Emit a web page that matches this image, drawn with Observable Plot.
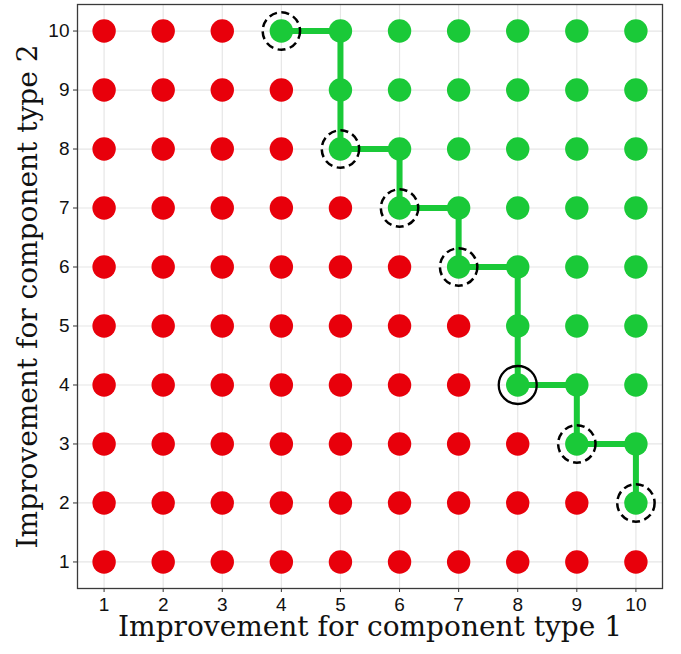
<!DOCTYPE html>
<html>
<head>
<meta charset="utf-8">
<script src="https://cdn.jsdelivr.net/npm/d3@7"></script>
<script src="https://cdn.jsdelivr.net/npm/@observablehq/plot@0.6"></script>
<style>
  html, body { margin: 0; padding: 0; background: #fff; }
</style>
</head>
<body>
<div id="chart"></div>
<script>
// Axis tick values
const xTicks = [1, 2, 3, 4, 5, 6, 7, 8, 9, 10];
const yTicks = [1, 2, 3, 4, 5, 6, 7, 8, 9, 10];

// Feasibility per row (row y = 10 down to 1), x = 1..10; G = feasible (green), R = not feasible (red)
const rowY = [10, 9, 8, 7, 6, 5, 4, 3, 2, 1];
const rowStatus = [
  "RRRGGGGGGG",
  "RRRRGGGGGG",
  "RRRRGGGGGG",
  "RRRRRGGGGG",
  "RRRRRRGGGG",
  "RRRRRRRGGG",
  "RRRRRRRGGG",
  "RRRRRRRRGG",
  "RRRRRRRRRG",
  "RRRRRRRRRR"
];

// Staircase frontier path
const pathX = [4, 5, 5, 5, 6, 6, 7, 7, 8, 8, 8, 9, 9, 10, 10];
const pathY = [10, 10, 9, 8, 8, 7, 7, 6, 6, 5, 4, 4, 3, 3, 2];

// Dashed-circled points
const dashedX = [4, 5, 6, 7, 9, 10];
const dashedY = [10, 8, 7, 6, 3, 2];

// Solid-circled point
const solidX = [8];
const solidY = [4];

const xTitle = "Improvement for component type 1";
const yTitle = "Improvement for component type 2";

const RED = "#e8000b";
const GREEN = "#1ac938";
const SANS = "'Liberation Sans', Arial, Helvetica, sans-serif";
const SERIF = "'DejaVu Serif', serif";

const cells = [];
rowY.forEach((y, i) => {
  xTicks.forEach((x, j) => {
    cells.push({x, y, s: rowStatus[i][j]});
  });
});
const path = pathX.map((x, i) => ({x, y: pathY[i]}));
const dashed = dashedX.map((x, i) => ({x, y: dashedY[i]}));
const solid = solidX.map((x, i) => ({x, y: solidY[i]}));

const chart = Plot.plot({
  width: 681,
  height: 654,
  marginLeft: 77,
  marginRight: 19,
  marginTop: 4,
  marginBottom: 66,
  style: {fontFamily: SANS, fontSize: "19px", color: "#111", background: "#fff"},
  x: {domain: [0.55, 10.45], label: null},
  y: {domain: [0.55, 10.45], label: null},
  marks: [
    Plot.gridX(xTicks, {stroke: "#e6e6e6", strokeOpacity: 1, strokeWidth: 1.2}),
    Plot.gridY(yTicks, {stroke: "#e6e6e6", strokeOpacity: 1, strokeWidth: 1.2}),
    Plot.axisX(xTicks, {tickSize: 4, tickPadding: 5, fontSize: 19, fontFamily: SANS, tickFormat: d3.format("d"), stroke: "#333", fill: "#111", label: null}),
    Plot.axisY(yTicks, {tickSize: 4, tickPadding: 4, fontSize: 19, fontFamily: SANS, tickFormat: d3.format("d"), stroke: "#333", fill: "#111", label: null}),
    Plot.line(path, {x: "x", y: "y", stroke: GREEN, strokeWidth: 6, curve: "linear"}),
    Plot.dot(cells, {x: "x", y: "y", r: 11.7, fill: d => d.s === "G" ? GREEN : RED, stroke: "none"}),
    Plot.dot(dashed, {x: "x", y: "y", r: 18.7, fill: "none", stroke: "#000", strokeWidth: 2.5, strokeDasharray: "8,4.5"}),
    Plot.dot(solid, {x: "x", y: "y", r: 19, fill: "none", stroke: "#000", strokeWidth: 2.3}),
    Plot.frame({stroke: "#3a3a3a", strokeWidth: 1.3}),
    Plot.text([xTitle], {frameAnchor: "bottom", dy: 47, fontSize: 28, fontFamily: SERIF, fill: "#111"}),
    Plot.text([yTitle], {frameAnchor: "left", textAnchor: "middle", dx: -49, rotate: -90, fontSize: 28, fontFamily: SERIF, fill: "#111"})
  ]
});
document.getElementById("chart").appendChild(chart);
</script>
</body>
</html>
